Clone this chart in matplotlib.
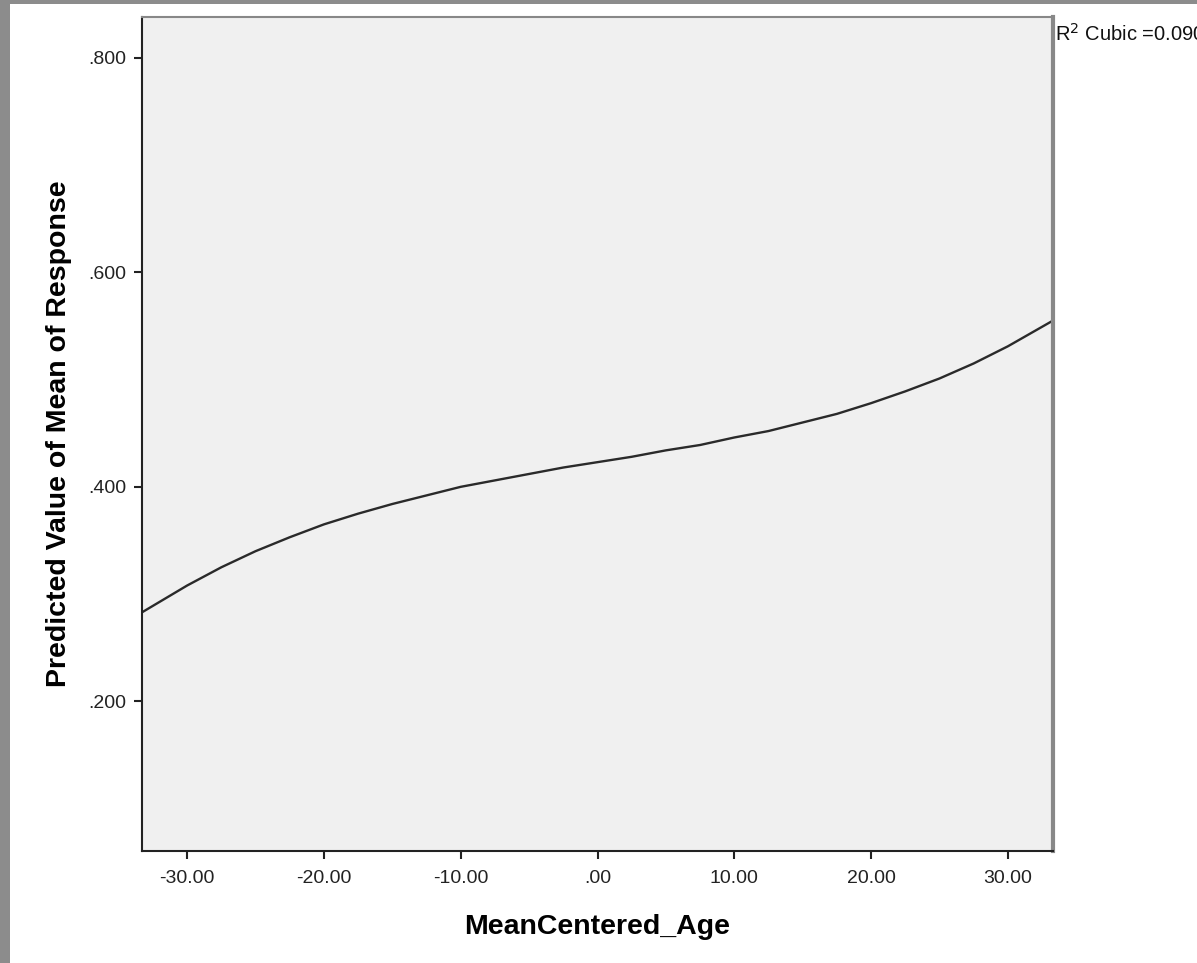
import matplotlib
matplotlib.use("Agg")
import matplotlib.pyplot as plt
from matplotlib.patches import Rectangle

# Data (cubic fit line)
age = [-33.3, -30.0, -27.5, -25.0, -22.5, -20.0, -17.5, -15.0, -12.5, -10.0,
       -7.5, -5.0, -2.5, 0.0, 2.5, 5.0, 7.5, 10.0, 12.5, 15.0, 17.5, 20.0,
       22.5, 25.0, 27.5, 30.0, 33.3]
predicted = [0.283, 0.308, 0.325, 0.340, 0.353, 0.365, 0.375, 0.384, 0.392,
             0.400, 0.406, 0.412, 0.418, 0.423, 0.428, 0.434, 0.439, 0.446,
             0.452, 0.460, 0.468, 0.478, 0.489, 0.501, 0.515, 0.531, 0.555]

x_ticks = [-30, -20, -10, 0, 10, 20, 30]
x_tick_labels = ["-30.00", "-20.00", "-10.00", ".00", "10.00", "20.00", "30.00"]
y_ticks = [0.2, 0.4, 0.6, 0.8]
y_tick_labels = [".200", ".400", ".600", ".800"]

plt.rcParams['font.family'] = ['Liberation Sans', 'DejaVu Sans']

fig = plt.figure(figsize=(11.97, 9.63), dpi=100)
fig.patch.set_facecolor("white")

# gray window-frame strips
fig.patches.append(Rectangle((0, 0), 10 / 1197, 1, transform=fig.transFigure,
                             facecolor="#8c8c8c", edgecolor="none", zorder=0))
fig.patches.append(Rectangle((0, 1 - 4 / 963), 1, 4 / 963, transform=fig.transFigure,
                             facecolor="#8c8c8c", edgecolor="none", zorder=0))

ax = fig.add_axes([142 / 1197, 112 / 963, 911 / 1197, 834 / 963])
ax.set_facecolor("#f0f0f0")
ax.plot(age, predicted, color="#2a2a2a", linewidth=1.7)

ax.set_xlim(-33.3, 33.3)
ax.set_ylim(0.0605, 0.838)
ax.set_xticks(x_ticks)
ax.set_xticklabels(x_tick_labels)
ax.set_yticks(y_ticks)
ax.set_yticklabels(y_tick_labels)
ax.tick_params(direction="out", length=6, width=1.5, labelsize=14, colors="#222222")
ax.tick_params(axis="x", pad=8)
ax.tick_params(axis="y", pad=5)

for side in ["left", "bottom"]:
    ax.spines[side].set_color("#222222")
    ax.spines[side].set_linewidth(1.5)
ax.spines["right"].set_color("#888888")
ax.spines["right"].set_linewidth(3)
ax.spines["top"].set_color("#888888")
ax.spines["top"].set_linewidth(1.5)

ax.set_xlabel("MeanCentered_Age", fontsize=20.5, fontweight="bold", labelpad=19)
ax.set_ylabel("Predicted Value of Mean of Response", fontsize=20.5, fontweight="bold", labelpad=12)

fig.text(1055 / 1197, 1 - 34 / 963, "R$^2$ Cubic =0.090", fontsize=14.5, color="#111111",
         va="center", ha="left")

fig.savefig("out.png", dpi=100)
